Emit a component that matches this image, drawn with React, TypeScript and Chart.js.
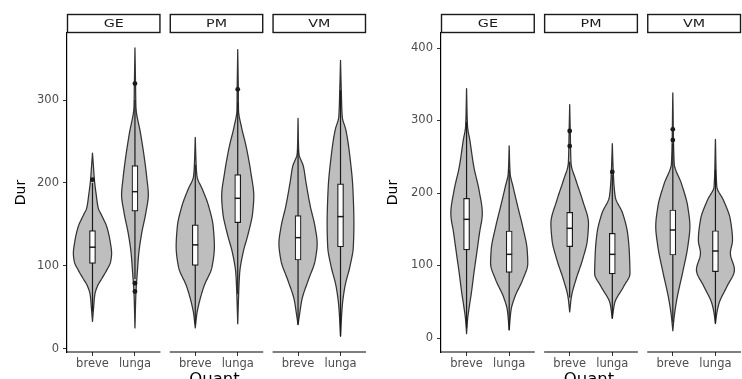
import React, { useEffect, useRef } from 'react';
import { Chart, registerables } from 'chart.js';

Chart.register(...registerables);

// ---------- categories ----------
const facetLabels = ['GE', 'PM', 'VM'];
const quantLabels = ['breve', 'lunga'];
const yTitle = 'Dur';
const xTitle = 'Quant';

// ---------- left panel ----------
const leftYTicks = [0, 100, 200, 300];
const leftYRange = [-4, 381];

const L_GE_breve_levels = [236, 220, 204, 185, 170, 160, 147, 130, 115, 105, 95, 85, 75, 65, 50, 33];
const L_GE_breve_dens = [0, 0.05, 0.1, 0.2, 0.3, 0.5, 0.75, 0.92, 1, 0.95, 0.75, 0.5, 0.25, 0.12, 0.06, 0];
const L_GE_lunga_levels = [363, 320, 292, 260, 232, 204, 186, 164, 139, 115, 91, 67, 25];
const L_GE_lunga_dens = [0, 0.03, 0.05, 0.29, 0.48, 0.63, 0.7, 0.57, 0.35, 0.2, 0.12, 0.05, 0];
const L_PM_breve_levels = [255, 220, 208, 192, 172, 147, 123, 99, 75, 55, 43, 25];
const L_PM_breve_dens = [0, 0.05, 0.09, 0.38, 0.7, 0.94, 1, 0.88, 0.45, 0.2, 0.09, 0];
const L_PM_lunga_levels = [361, 313, 288, 268, 244, 212, 184, 164, 139, 115, 91, 67, 30];
const L_PM_lunga_dens = [0, 0.03, 0.04, 0.19, 0.44, 0.69, 0.84, 0.78, 0.55, 0.27, 0.1, 0.05, 0];
const L_VM_breve_levels = [278, 236, 220, 200, 172, 147, 127, 107, 83, 59, 43, 29];
const L_VM_breve_dens = [0, 0.04, 0.28, 0.42, 0.64, 0.89, 1, 0.9, 0.54, 0.2, 0.09, 0];
const L_VM_lunga_levels = [348, 312, 280, 264, 232, 192, 151, 123, 99, 75, 51, 15];
const L_VM_lunga_dens = [0, 0.04, 0.09, 0.28, 0.49, 0.65, 0.7, 0.67, 0.49, 0.23, 0.09, 0];

const leftQ1 = [103, 166, 100.5, 152, 107, 123];
const leftMedian = [122.5, 189.5, 125.3, 181.5, 134, 159.4];
const leftQ3 = [142.5, 221, 149.4, 210, 160.6, 199];
const leftWhiskerLo = [45, 84, 30, 66, 29, 15];
const leftWhiskerHi = [200, 300, 222, 297, 240, 312];
const leftOutliers = [[204], [320, 79, 69], [], [313], [], []];

// ---------- right panel ----------
const rightYTicks = [0, 100, 200, 300, 400];
const rightYRange = [-19.3, 420.7];

const R_GE_breve_levels = [344, 292, 273, 236, 204, 172, 144, 117, 89, 62, 43, 25, 6];
const R_GE_breve_dens = [0, 0.05, 0.17, 0.38, 0.65, 0.82, 0.67, 0.53, 0.38, 0.25, 0.14, 0.05, 0];
const R_GE_lunga_levels = [265, 227, 209, 181, 154, 121, 103, 80, 57, 39, 11];
const R_GE_lunga_dens = [0, 0.05, 0.2, 0.45, 0.7, 0.94, 0.97, 0.7, 0.3, 0.1, 0];
const R_PM_breve_levels = [322, 285, 241, 218, 190, 158, 135, 108, 80, 57, 36];
const R_PM_breve_dens = [0, 0.03, 0.07, 0.32, 0.67, 0.98, 0.92, 0.67, 0.32, 0.09, 0];
const R_PM_lunga_levels = [268, 229, 195, 172, 144, 117, 89, 71, 48, 27];
const R_PM_lunga_dens = [0, 0.05, 0.15, 0.54, 0.8, 0.89, 0.92, 0.59, 0.12, 0];
const R_VM_breve_levels = [338, 241, 213, 181, 154, 126, 89, 52, 29, 10];
const R_VM_breve_dens = [0, 0.07, 0.45, 0.78, 0.89, 0.78, 0.5, 0.2, 0.07, 0];
const R_VM_lunga_levels = [274, 209, 190, 163, 135, 117, 94, 71, 48, 34, 20];
const R_VM_lunga_dens = [0, 0.07, 0.42, 0.78, 0.89, 0.78, 0.99, 0.6, 0.19, 0.07, 0];

const rightQ1 = [121.4, 90.6, 126, 88.3, 114.5, 91.5];
const rightMedian = [163.7, 115.4, 151.3, 115.4, 149, 120];
const rightQ3 = [192.7, 147.6, 173.4, 144.4, 176.6, 148];
const rightWhiskerLo = [14, 11, 56, 27, 22, 20];
const rightWhiskerHi = [298, 232, 243, 225, 268, 232];
const rightOutliers = [[], [], [264.8, 285.5], [229], [273, 287.8], []];

// ---------- layout constants (not data) ----------
const FACET_W = 2.2;
const GAP = 0.22;
const X_MAX = 3 * FACET_W + 2 * GAP;
const VIOLIN_HALF = 0.45;
const FONT = 'DejaVu Sans';

const catX = (i: number) => Math.floor(i / 2) * (FACET_W + GAP) + 0.6 + (i % 2);
const facetStart = (f: number) => f * (FACET_W + GAP);

type PanelData = {
  yRange: number[];
  yTicks: number[];
  levels: number[][];
  dens: number[][];
  q1: number[];
  med: number[];
  q3: number[];
  wLo: number[];
  wHi: number[];
  out: number[][];
};

const leftPanel: PanelData = {
  yRange: leftYRange,
  yTicks: leftYTicks,
  levels: [L_GE_breve_levels, L_GE_lunga_levels, L_PM_breve_levels, L_PM_lunga_levels, L_VM_breve_levels, L_VM_lunga_levels],
  dens: [L_GE_breve_dens, L_GE_lunga_dens, L_PM_breve_dens, L_PM_lunga_dens, L_VM_breve_dens, L_VM_lunga_dens],
  q1: leftQ1, med: leftMedian, q3: leftQ3, wLo: leftWhiskerLo, wHi: leftWhiskerHi, out: leftOutliers,
};

const rightPanel: PanelData = {
  yRange: rightYRange,
  yTicks: rightYTicks,
  levels: [R_GE_breve_levels, R_GE_lunga_levels, R_PM_breve_levels, R_PM_lunga_levels, R_VM_breve_levels, R_VM_lunga_levels],
  dens: [R_GE_breve_dens, R_GE_lunga_dens, R_PM_breve_dens, R_PM_lunga_dens, R_VM_breve_dens, R_VM_lunga_dens],
  q1: rightQ1, med: rightMedian, q3: rightQ3, wLo: rightWhiskerLo, wHi: rightWhiskerHi, out: rightOutliers,
};

// monotone cubic (Fritsch-Carlson) interpolation of density along the value axis
function monotone(xsIn: number[], ysIn: number[]) {
  const idx = xsIn.map((_, i) => i).sort((a, b) => xsIn[a] - xsIn[b]);
  const xs = idx.map((i) => xsIn[i]);
  const ys = idx.map((i) => ysIn[i]);
  const n = xs.length;
  const d: number[] = [];
  const m: number[] = new Array(n).fill(0);
  for (let i = 0; i < n - 1; i++) d.push((ys[i + 1] - ys[i]) / (xs[i + 1] - xs[i]));
  m[0] = d[0];
  m[n - 1] = d[n - 2];
  for (let i = 1; i < n - 1; i++) {
    if (d[i - 1] * d[i] <= 0) m[i] = 0;
    else {
      const w1 = 2 * (xs[i + 1] - xs[i]) + (xs[i] - xs[i - 1]);
      const w2 = (xs[i + 1] - xs[i]) + 2 * (xs[i] - xs[i - 1]);
      m[i] = (w1 + w2) / (w1 / d[i - 1] + w2 / d[i]);
    }
  }
  return (x: number) => {
    if (x <= xs[0]) return ys[0];
    if (x >= xs[n - 1]) return ys[n - 1];
    let k = 0;
    while (k < n - 2 && x > xs[k + 1]) k++;
    const h = xs[k + 1] - xs[k];
    const t = (x - xs[k]) / h;
    const t2 = t * t;
    const t3 = t2 * t;
    return (
      (2 * t3 - 3 * t2 + 1) * ys[k] +
      (t3 - 2 * t2 + t) * h * m[k] +
      (-2 * t3 + 3 * t2) * ys[k + 1] +
      (t3 - t2) * h * m[k + 1]
    );
  };
}

function makePlugin(p: PanelData, durX: number) {
  return {
    id: 'facetViolins',
    beforeDatasetsDraw(chart: any) {
      const { ctx } = chart;
      const x = chart.scales.x;
      const y = chart.scales.y;
      const unit = x.getPixelForValue(1) - x.getPixelForValue(0);
      for (let i = 0; i < 6; i++) {
        const cx = x.getPixelForValue(catX(i));
        const lv = p.levels[i];
        const f = monotone(lv, p.dens[i]);
        const top = Math.max(...lv);
        const bot = Math.min(...lv);
        const steps = 160;
        const right: { x: number; y: number }[] = [];
        for (let s = 0; s <= steps; s++) {
          const v = top - ((top - bot) * s) / steps;
          const dv = Math.max(0, f(v));
          right.push({ x: cx + dv * VIOLIN_HALF * unit, y: y.getPixelForValue(v) });
        }
        ctx.save();
        ctx.beginPath();
        right.forEach((pt, k) => (k === 0 ? ctx.moveTo(pt.x, pt.y) : ctx.lineTo(pt.x, pt.y)));
        for (let k = right.length - 1; k >= 0; k--) ctx.lineTo(2 * cx - right[k].x, right[k].y);
        ctx.closePath();
        ctx.fillStyle = '#bebebe';
        ctx.fill();
        ctx.strokeStyle = '#333333';
        ctx.lineWidth = 1.25;
        ctx.lineJoin = 'round';
        ctx.stroke();
        // whisker
        ctx.beginPath();
        ctx.moveTo(cx, y.getPixelForValue(p.wLo[i]));
        ctx.lineTo(cx, y.getPixelForValue(p.wHi[i]));
        ctx.strokeStyle = '#1a1a1a';
        ctx.lineWidth = 1.2;
        ctx.stroke();
        ctx.restore();
      }
    },
    afterDatasetsDraw(chart: any) {
      const { ctx } = chart;
      const x = chart.scales.x;
      const y = chart.scales.y;
      ctx.save();
      ctx.strokeStyle = '#1a1a1a';
      ctx.lineWidth = 1.5;
      for (let i = 0; i < 6; i++) {
        const cx = x.getPixelForValue(catX(i));
        const my = y.getPixelForValue(p.med[i]);
        ctx.beginPath();
        ctx.moveTo(cx - 3, my);
        ctx.lineTo(cx + 3, my);
        ctx.stroke();
      }
      ctx.restore();
    },
    afterDraw(chart: any) {
      const { ctx, chartArea } = chart;
      const x = chart.scales.x;
      ctx.save();
      for (let f = 0; f < 3; f++) {
        const l = x.getPixelForValue(facetStart(f));
        const r = x.getPixelForValue(facetStart(f) + FACET_W);
        // x axis line segment
        ctx.beginPath();
        ctx.moveTo(l, chartArea.bottom);
        ctx.lineTo(r, chartArea.bottom);
        ctx.strokeStyle = '#000';
        ctx.lineWidth = 1.2;
        ctx.stroke();
        // strip
        const st = chartArea.top - 19;
        ctx.fillStyle = '#fff';
        ctx.fillRect(l, st, r - l, 19);
        ctx.strokeStyle = '#1a1a1a';
        ctx.lineWidth = 1.4;
        ctx.strokeRect(l + 0.5, st + 0.5, r - l - 1, 18);
        ctx.save();
        ctx.translate((l + r) / 2, st + 10);
        ctx.scale(1.3, 1);
        ctx.fillStyle = '#1a1a1a';
        ctx.font = `11px "${FONT}"`;
        ctx.textAlign = 'center';
        ctx.textBaseline = 'middle';
        ctx.fillText(facetLabels[f], 0, 0);
        ctx.restore();
      }
      // x title
      ctx.save();
      ctx.translate((chartArea.left + chartArea.right) / 2 - 2, 384);
      ctx.scale(1.1, 1);
      ctx.fillStyle = '#000';
      ctx.font = `15px "${FONT}"`;
      ctx.textAlign = 'center';
      ctx.textBaseline = 'alphabetic';
      ctx.fillText(xTitle, 0, 0);
      ctx.restore();
      // y title
      ctx.save();
      ctx.translate(durX, (chartArea.top + chartArea.bottom) / 2);
      ctx.rotate(-Math.PI / 2);
      ctx.fillStyle = '#000';
      ctx.font = `14px "${FONT}"`;
      ctx.textAlign = 'center';
      ctx.textBaseline = 'middle';
      ctx.fillText(yTitle, 0, 0);
      ctx.restore();
      ctx.restore();
    },
  };
}

function Panel({ data, width, yAxisWidth, durX, left }: { data: PanelData; width: number; yAxisWidth: number; durX: number; left: number }) {
  const ref = useRef<HTMLCanvasElement | null>(null);
  useEffect(() => {
    if (!ref.current) return;
    const boxData = data.q1.map((q, i) => ({ x: catX(i), y: [q, data.q3[i]] }));
    const outData: { x: number; y: number }[] = [];
    data.out.forEach((arr, i) => arr.forEach((v) => outData.push({ x: catX(i), y: v })));
    const tickPositions = [0, 1, 2, 3, 4, 5].map(catX);
    const chart = new Chart(ref.current, {
      type: 'bar',
      data: {
        datasets: [
          {
            type: 'scatter',
            data: outData,
            pointRadius: 2.4,
            pointBackgroundColor: '#1a1a1a',
            pointBorderWidth: 0,
            backgroundColor: '#1a1a1a',
          } as any,
          {
            type: 'bar',
            data: boxData as any,
            backgroundColor: '#ffffff',
            borderColor: '#1a1a1a',
            borderWidth: 1.2,
            borderSkipped: false,
            barThickness: 6,
            grouped: false,
          } as any,
        ],
      },
      options: {
        responsive: false,
        animation: false,
        events: [],
        layout: { padding: { top: 33, right: 1, left: 0, bottom: 0 } },
        plugins: { legend: { display: false }, tooltip: { enabled: false }, title: { display: false } },
        scales: {
          x: {
            type: 'linear',
            min: 0,
            max: X_MAX,
            offset: false,
            afterBuildTicks: (s: any) => {
              s.ticks = tickPositions.map((v) => ({ value: v }));
            },
            afterFit: (s: any) => {
              s.height = 27;
            },
            ticks: {
              autoSkip: false,
              maxRotation: 0,
              minRotation: 0,
              padding: 1,
              color: '#4d4d4d',
              font: { family: FONT, size: 11.5 },
              callback: (_v: any, i: number) => quantLabels[i % 2],
            },
            grid: { display: true, offset: false, drawOnChartArea: false, drawTicks: true, tickLength: 4, color: '#333333', lineWidth: 1 },
            border: { display: false },
          },
          y: {
            type: 'linear',
            min: data.yRange[0],
            max: data.yRange[1],
            afterBuildTicks: (s: any) => {
              s.ticks = data.yTicks.map((v) => ({ value: v }));
            },
            afterFit: (s: any) => {
              s.width = yAxisWidth;
            },
            ticks: { color: '#4d4d4d', padding: 4, font: { family: FONT, size: 11.5 } },
            grid: { display: true, drawOnChartArea: false, drawTicks: true, tickLength: 4, color: '#333333', lineWidth: 1 },
            border: { display: true, color: '#000', width: 1.2 },
          },
        },
      } as any,
      plugins: [makePlugin(data, durX)],
    });
    return () => chart.destroy();
  }, []);
  return (
    <canvas
      ref={ref}
      width={width}
      height={379}
      style={{ position: 'absolute', left, top: 0, width, height: 379 }}
    />
  );
}

export default function App() {
  useEffect(() => {
    document.body.style.overflow = 'hidden';
  }, []);
  return (
    <div style={{ position: 'absolute', left: 0, top: 0, width: 742, height: 379, overflow: 'hidden', background: '#fff' }}>
      <Panel data={leftPanel} width={370} yAxisWidth={67} durX={21} left={0} />
      <Panel data={rightPanel} width={373} yAxisWidth={69} durX={21} left={372} />
    </div>
  );
}
